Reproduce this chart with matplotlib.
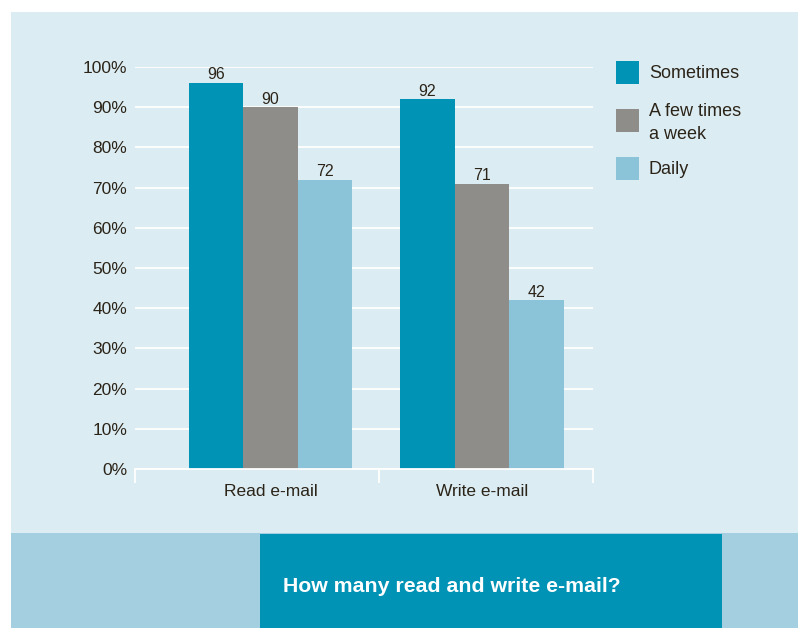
import matplotlib
matplotlib.use("Agg")
import matplotlib.pyplot as plt
import numpy as np
from matplotlib.patches import Rectangle

plt.rcParams['font.family'] = ['Liberation Sans', 'DejaVu Sans']

categories = ["Read e-mail", "Write e-mail"]
series_names = ["Sometimes", "A few times\na week", "Daily"]
sometimes = [96, 92]
few_times_week = [90, 71]
daily = [72, 42]
y_ticks = [0, 10, 20, 30, 40, 50, 60, 70, 80, 90, 100]
title = "How many read and write e-mail?"

colors = ["#0093b5", "#8f8d8a", "#8bc3d8"]
panel_bg = "#dcecf3"
band_light = "#a3cfe0"
band_dark = "#0093b5"
text_col = "#2b2418"

W, H = 800, 628
fig = plt.figure(figsize=(W / 100, H / 100), dpi=100)
fig.patch.set_facecolor("white")


def fx(px):
    return px / W


def fy(py):
    return 1 - py / H


def add_rect(x0, y0, x1, y1, color, z=-10):
    fig.patches.append(Rectangle((fx(x0), fy(y1)), fx(x1) - fx(x0), fy(y0) - fy(y1),
                                 transform=fig.transFigure, facecolor=color,
                                 edgecolor="none", zorder=z))


# background panel and bottom band
add_rect(11, 12, 798, 533, panel_bg)
add_rect(11, 533, 798, 628, band_light)
add_rect(260, 534, 722, 628, band_dark)
fig.text(fx(283), fy(586), title, color="white", fontsize=15.3, fontweight="bold",
         ha="left", va="center")

ax = fig.add_axes([fx(135), fy(469), fx(593) - fx(135), fy(67) - fy(469)])
ax.set_facecolor("none")
ax.set_zorder(2)

x = np.arange(len(categories))
bw = 0.258
all_series = [sometimes, few_times_week, daily]
for i, (vals, col, name) in enumerate(zip(all_series, colors, series_names)):
    pos = x + (i - 1) * bw
    ax.bar(pos, vals, width=bw, color=col, label=name, zorder=3, linewidth=0)
    for p, v in zip(pos, vals):
        ax.text(p, v + 0.9, f"{v}", ha="center", va="baseline", fontsize=11.5,
                color=text_col, zorder=4)

ax.set_xlim(-0.641, 1.525)
ax.set_ylim(0, 100)
ax.set_yticks(y_ticks)
ax.set_yticklabels([f"{t}%" for t in y_ticks], fontsize=12.5, color=text_col)
ax.yaxis.grid(True, color="white", linewidth=1.3, zorder=1)
ax.tick_params(axis="y", length=0, pad=5.5)

# category labels, with boundary ticks on the baseline
ax.set_xticks([-0.641, 0.513, 1.525])
ax.set_xticklabels([])
ax.tick_params(axis="x", length=10, width=1.3, color="white", direction="out")
for xi, c in zip(x, categories):
    ax.text(xi, -3.8, c, ha="center", va="top", fontsize=12.5, color=text_col)

for s in ["top", "right", "left"]:
    ax.spines[s].set_visible(False)
ax.spines["bottom"].set_color("white")
ax.spines["bottom"].set_linewidth(1.3)
ax.spines["bottom"].set_zorder(5)

# legend: swatches with labels beside them
swatch_tops = [61, 109, 157]
for top, col, name in zip(swatch_tops, colors, series_names):
    add_rect(616, top, 639, top + 23, col, z=1)
    n_lines = name.count("\n") + 1
    fig.text(fx(649), fy(top + 12.5 + (n_lines - 1) * 1.5), name, ha="left",
             va="center", fontsize=13, color=text_col, linespacing=1.47)

fig.savefig("out.png", dpi=100, facecolor=fig.get_facecolor())
